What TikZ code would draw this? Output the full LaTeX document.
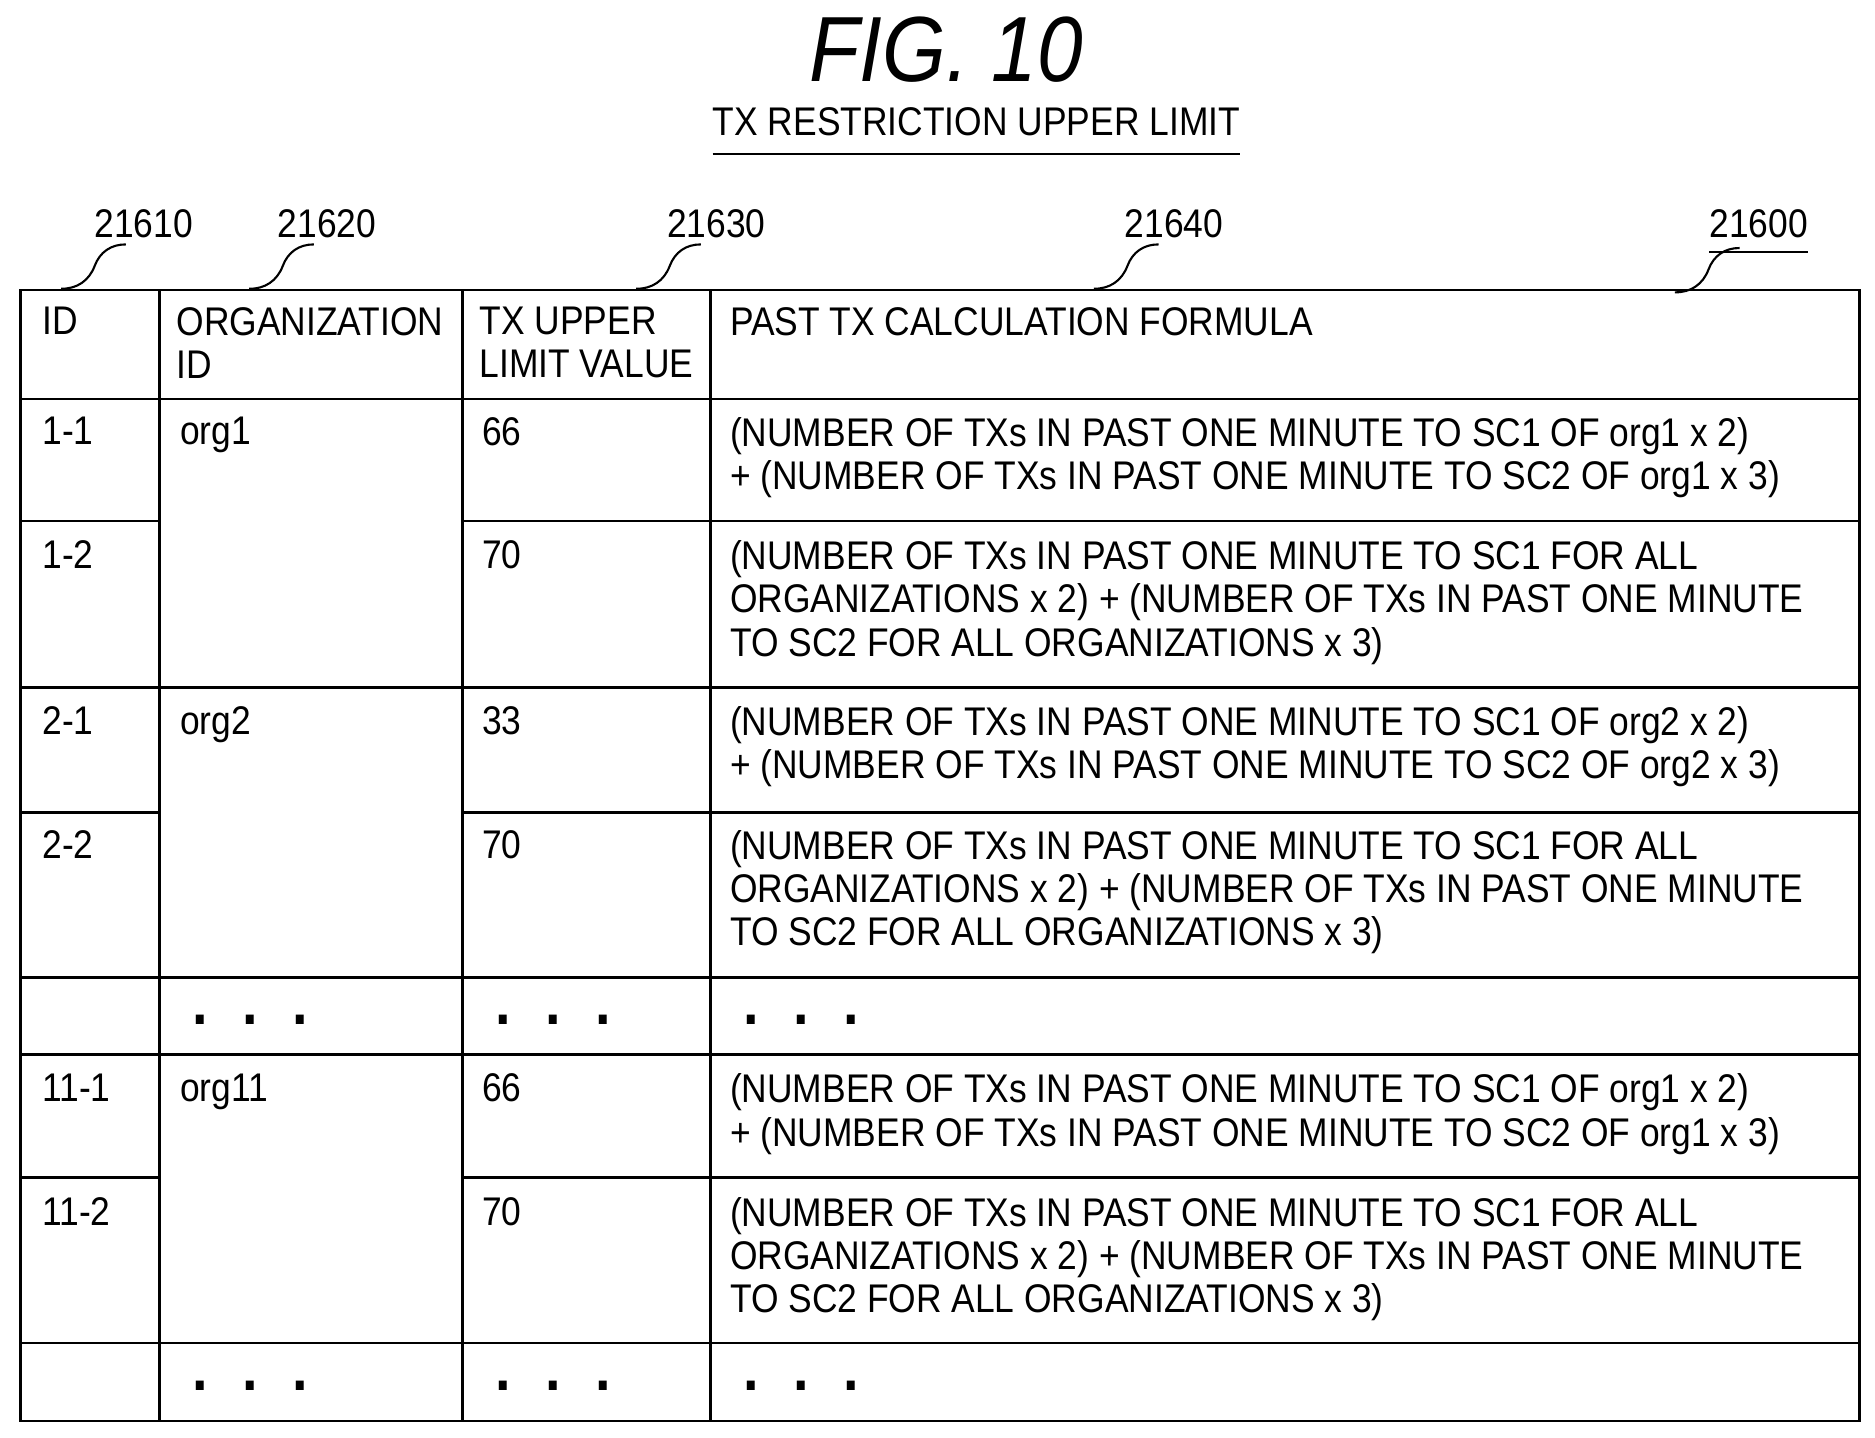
\documentclass[tikz,border=0pt]{standalone}
\usepackage{fontspec}
\setmainfont{Liberation Sans}[FakeStretch=0.885]
\usetikzlibrary{positioning}

\tikzset{
  cell/.style={anchor=north west, inner sep=0pt, align=left, font=\fontsize{19}{20.5}\selectfont},
  dotcell/.style={anchor=base west, inner sep=0pt, font=\fontsize{30}{30}\selectfont\bfseries},
  refnum/.style={anchor=base, inner sep=0pt, font=\fontsize{19}{20.5}\selectfont},
  rule/.style={line width=1.2pt},
}
\newcommand{\squig}[2]{\draw[line width=1pt] (#1,#2) to[bend right=35] (#1-26,#2+18) to[bend left=35] (#1-54,#2+37);}
\newcommand{\tdots}{.\hspace{0.55em}.\hspace{0.55em}.}

\begin{document}
\begin{tikzpicture}[x=0.02cm,y=-0.02cm]
		\useasboundingbox (0,0) rectangle (1565,1200);

		% title
		\node[anchor=base, font=\fontsize{44}{44}\selectfont\itshape] (fig) at (790,68) {FIG. 10};
		\node[anchor=base, inner sep=0pt, font=\fontsize{19}{20.5}\selectfont] (ttl) at (815,113) {TX RESTRICTION UPPER LIMIT};
		\draw[line width=1pt] ([yshift=-9pt]ttl.base west) -- ([yshift=-9pt]ttl.base east);

		% reference numbers
		\node[refnum] (n21610) at (120,198) {21610};
		\node[refnum] (n21620) at (273,198) {21620};
		\node[refnum] (n21630) at (598,198) {21630};
		\node[refnum] (n21640) at (980,198) {21640};
		\node[refnum] (n21600) at (1468,198) {21600};
		\draw[line width=1pt] ([yshift=-7pt]n21600.base west) -- ([yshift=-7pt]n21600.base east);
		\squig{105}{204}
		\squig{262}{204}
		\squig{585}{204}
		\squig{967}{204}
		\squig{1452}{207}

		% frame and column lines
		\draw[rule] (17,242) rectangle (1552,1186);
		\foreach \cx in {133,386,593}
			\draw[rule] (\cx,242) -- (\cx,1186);

		% full row lines
		\foreach \ry in {333,574,816,880,1121}
			\draw[rule] (17,\ry) -- (1552,\ry);

		% partial row lines (org column merged)
		\foreach \ry in {435,678,983} {
			\draw[rule] (17,\ry) -- (133,\ry);
			\draw[rule] (386,\ry) -- (1552,\ry);
		}

		% header
		\node[cell] (hid) at (35,256) {ID};
		\node[cell] (horg) at (147,256) {ORGANIZATION\\ID};
		\node[cell] (hval) at (400,256) {TX UPPER\\LIMIT VALUE};
		\node[cell] (hform) at (609,256) {PAST TX CALCULATION FORMULA};

		% rows
		\node[cell] (id11) at (35,348) {1-1};
		\node[cell] (org1) at (150,348) {org1};
		\node[cell] (v11) at (402,348) {66};
		\node[cell] (f11) at (609,348) {(NUMBER OF TXs IN PAST ONE MINUTE TO SC1 OF org1 x 2)\\+ (NUMBER OF TXs IN PAST ONE MINUTE TO SC2 OF org1 x 3)};

		\node[cell] (id12) at (35,451) {1-2};
		\node[cell] (v12) at (402,451) {70};
		\node[cell] (f12) at (609,451) {(NUMBER OF TXs IN PAST ONE MINUTE TO SC1 FOR ALL\\ORGANIZATIONS x 2) + (NUMBER OF TXs IN PAST ONE MINUTE\\TO SC2 FOR ALL ORGANIZATIONS x 3)};

		\node[cell] (id21) at (35,589) {2-1};
		\node[cell] (org2) at (150,589) {org2};
		\node[cell] (v21) at (402,589) {33};
		\node[cell] (f21) at (609,589) {(NUMBER OF TXs IN PAST ONE MINUTE TO SC1 OF org2 x 2)\\+ (NUMBER OF TXs IN PAST ONE MINUTE TO SC2 OF org2 x 3)};

		\node[cell] (id22) at (35,693) {2-2};
		\node[cell] (v22) at (402,693) {70};
		\node[cell] (f22) at (609,693) {(NUMBER OF TXs IN PAST ONE MINUTE TO SC1 FOR ALL\\ORGANIZATIONS x 2) + (NUMBER OF TXs IN PAST ONE MINUTE\\TO SC2 FOR ALL ORGANIZATIONS x 3)};

		\node[dotcell] (dorg1) at (160,855) {\tdots};
		\node[dotcell] (dval1) at (413,855) {\tdots};
		\node[dotcell] (dform1) at (620,855) {\tdots};

		\node[cell] (id111) at (35,896) {11-1};
		\node[cell] (org11) at (150,896) {org11};
		\node[cell] (v111) at (402,896) {66};
		\node[cell] (f111) at (609,896) {(NUMBER OF TXs IN PAST ONE MINUTE TO SC1 OF org1 x 2)\\+ (NUMBER OF TXs IN PAST ONE MINUTE TO SC2 OF org1 x 3)};

		\node[cell] (id112) at (35,999) {11-2};
		\node[cell] (v112) at (402,999) {70};
		\node[cell] (f112) at (609,999) {(NUMBER OF TXs IN PAST ONE MINUTE TO SC1 FOR ALL\\ORGANIZATIONS x 2) + (NUMBER OF TXs IN PAST ONE MINUTE\\TO SC2 FOR ALL ORGANIZATIONS x 3)};

		\node[dotcell] (dorg2) at (160,1161) {\tdots};
		\node[dotcell] (dval2) at (413,1161) {\tdots};
		\node[dotcell] (dform2) at (620,1161) {\tdots};

\end{tikzpicture}
\end{document}
